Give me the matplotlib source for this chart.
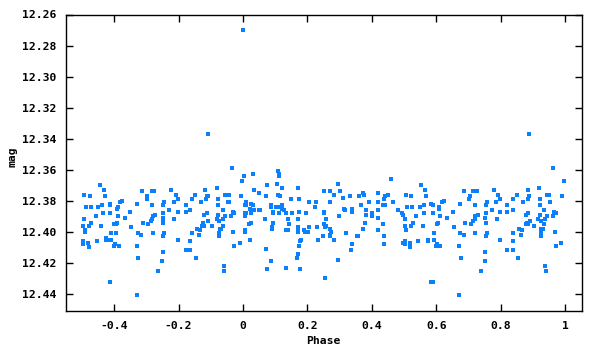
import matplotlib
matplotlib.use("Agg")
import matplotlib.pyplot as plt
from matplotlib.ticker import FixedLocator, FixedFormatter

phase = [
    -0.444, -0.431, -0.494, -0.475, -0.428, -0.488, -0.472, -0.450, -0.438, -0.413,
    -0.413, -0.494, -0.497, -0.491, -0.491, -0.472, -0.478, -0.456, -0.434, -0.413,
    -0.441, -0.497, -0.497, -0.481, -0.478, -0.453, -0.425, -0.425, -0.413, -0.409,
    -0.409, -0.394, -0.400, -0.397, -0.384, -0.413, -0.400, -0.394, -0.391, -0.388,
    -0.391, -0.388, -0.381, -0.375, -0.366, -0.350, -0.347, -0.328, -0.328, -0.325,
    -0.325, -0.328, -0.316, -0.313, -0.309, -0.297, -0.297, -0.294, -0.284, -0.281,
    -0.278, -0.272, -0.281, -0.281, -0.275, -0.278, -0.263, -0.250, -0.247, -0.247,
    -0.244, -0.247, -0.247, -0.247, -0.247, -0.247, -0.244, -0.228, -0.222, -0.213,
    -0.209, -0.213, -0.203, -0.203, -0.203, -0.178, -0.178, -0.178,
    -0.163, -0.163, -0.163, -0.159, -0.159, -0.150, -0.147, -0.144, -0.138, -0.134,
    -0.131, -0.125, -0.128, -0.122, -0.122, -0.119, -0.116, -0.113, -0.109, -0.113,
    -0.109, -0.097, -0.081, -0.078, -0.078, -0.081, -0.078, -0.075, -0.072, -0.069,
    -0.075, -0.075, -0.063, -0.063, -0.063, -0.056, -0.056, -0.059, -0.059, -0.047,
    -0.044, -0.044, -0.038, -0.031, -0.028, -0.031, -0.028, -0.034, -0.009, -0.006,
    -0.003, 0.003, 0.006, 0.009, 0.009, 0.006, 0.006, 0.009, 0.006, 0.006,
    0.019, 0.022, 0.022, 0.025, 0.025, 0.025, 0.031, 0.031, 0.034, 0.034,
    0.050, 0.050, 0.053, 0.069, 0.072, 0.075, 0.072, 0.075, 0.088, 0.088,
    0.088, 0.091, 0.091, 0.094, 0.094, 0.094, 0.106, 0.109, 0.113, 0.113,
    0.109, 0.116, 0.122, 0.103, 0.109, 0.116, 0.122, 0.122, 0.113, 0.128,
    0.134, 0.134, 0.141, 0.141, 0.144, 0.134, 0.150, 0.153, 0.172, 0.175,
    0.175, 0.172, 0.172, 0.172, 0.172, 0.181, 0.178, 0.175, 0.172, 0.172,
    0.169, 0.178,
    0.188, 0.191, 0.194, 0.203, 0.206, 0.206, 0.222, 0.225, 0.231, 0.234,
    0.249, 0.252, 0.252, 0.252, 0.252, 0.255, 0.258, 0.258, 0.271, 0.271,
    0.271, 0.274, 0.271, 0.271, 0.283, 0.283, 0.295, 0.302, 0.298, 0.295,
    0.255, 0.311, 0.314, 0.317, 0.320, 0.332, 0.338, 0.338, 0.338, 0.338,
    0.335, 0.354, 0.357, 0.360, 0.366, 0.372, 0.375, 0.382, 0.382, 0.378,
    0.372, 0.391, 0.400, 0.400, 0.418, 0.418, 0.418, 0.418, 0.418, 0.434,
    0.437, 0.440, 0.440, 0.434, 0.437, 0.437, 0.449, 0.458, 0.465, 0.480,
    0.492, 0.495, 0.502, 0.502, 0.505, 0.505, 0.508, 0.520, 0.523, 0.520,
    0.526, 0.495, 0.502, 0.502, 0.517, 0.517, 0.538, 0.542, 0.551, 0.548,
    0.558, 0.563, 0.563, 0.566, 0.569, 0.575, 0.575, 0.584, 0.588, 0.588,
    0.591, 0.591, 0.584, 0.588, 0.600, 0.603, 0.606, 0.603, 0.609, 0.609,
    0.612, 0.612, 0.616, 0.625, 0.634, 0.650, 0.653, 0.669, 0.672, 0.672,
    0.675, 0.669, 0.684, 0.687, 0.690, 0.700, 0.703, 0.706, 0.715, 0.719,
    0.725, 0.719, 0.719, 0.715, 0.719, 0.728, 0.750, 0.753, 0.753, 0.756,
    0.753, 0.753, 0.756, 0.750, 0.750, 0.737, 0.772, 0.778, 0.784, 0.787,
    0.790, 0.796, 0.796, 0.796, 0.818, 0.818, 0.818, 0.837, 0.837, 0.837,
    0.837, 0.837, 0.849, 0.853, 0.856, 0.862, 0.865, 0.868, 0.878, 0.878,
    0.881, 0.884, 0.884, 0.887, 0.884, 0.890, 0.884, 0.902, 0.915, 0.918,
    0.921, 0.921, 0.921, 0.924, 0.924, 0.931, 0.924, 0.924, 0.924, 0.934,
    0.937, 0.934, 0.943, 0.949, 0.952, 0.943, 0.962, 0.965, 0.971, 0.968,
    0.971, 0.987, 0.990, 0.937, 0.940, 0.962, 0.996,
    0.000, -0.110, 0.886,
]

mag = [
    12.370, 12.373, 12.376, 12.377, 12.377, 12.384, 12.384, 12.384, 12.383, 12.382,
    12.383, 12.392, 12.396, 12.399, 12.400, 12.394, 12.396, 12.390, 12.388, 12.388,
    12.396, 12.406, 12.408, 12.407, 12.410, 12.406, 12.404, 12.405, 12.405, 12.405,
    12.401, 12.401, 12.409, 12.408, 12.409, 12.432, 12.395, 12.395, 12.394, 12.390,
    12.385, 12.384, 12.381, 12.380, 12.391, 12.387, 12.397, 12.382, 12.409, 12.401,
    12.417, 12.441, 12.402, 12.374, 12.394, 12.377, 12.379, 12.395, 12.393, 12.392,
    12.390, 12.389, 12.383, 12.374, 12.374, 12.401, 12.425, 12.419, 12.413, 12.403,
    12.401, 12.391, 12.392, 12.394, 12.388, 12.383, 12.381, 12.386, 12.373, 12.392,
    12.376, 12.381, 12.379, 12.387, 12.405, 12.383, 12.387, 12.412,
    12.386, 12.406, 12.412, 12.379, 12.401, 12.376, 12.417, 12.398, 12.402, 12.399,
    12.381, 12.394, 12.396, 12.389, 12.396, 12.373, 12.379, 12.377, 12.377, 12.388,
    12.393, 12.396, 12.372, 12.379, 12.383, 12.392, 12.389, 12.393, 12.398, 12.398,
    12.401, 12.403, 12.386, 12.392, 12.396, 12.376, 12.390, 12.422, 12.425, 12.381,
    12.376, 12.381, 12.390, 12.387, 12.388, 12.400, 12.409, 12.359, 12.407, 12.377,
    12.367, 12.364, 12.383, 12.381, 12.383, 12.388, 12.390, 12.388, 12.399, 12.400,
    12.395, 12.385, 12.405, 12.382, 12.388, 12.394, 12.363, 12.383, 12.373, 12.386,
    12.375, 12.386, 12.386, 12.392, 12.377, 12.370, 12.411, 12.424, 12.383, 12.384,
    12.419, 12.397, 12.398, 12.394, 12.387, 12.388, 12.369, 12.361, 12.363, 12.364,
    12.376, 12.377, 12.372, 12.384, 12.384, 12.384, 12.383, 12.385, 12.388, 12.386,
    12.388, 12.399, 12.392, 12.399, 12.395, 12.423, 12.379, 12.388, 12.372, 12.379,
    12.387, 12.392, 12.397, 12.398, 12.400, 12.405, 12.406, 12.409, 12.414, 12.414,
    12.417, 12.424,
    12.399, 12.400, 12.388, 12.400, 12.381, 12.397, 12.384, 12.381, 12.397, 12.405,
    12.403, 12.374, 12.387, 12.388, 12.395, 12.397, 12.392, 12.396, 12.374, 12.381,
    12.398, 12.400, 12.402, 12.403, 12.376, 12.405, 12.369, 12.374, 12.390, 12.418,
    12.430, 12.378, 12.385, 12.386, 12.401, 12.377, 12.385, 12.386, 12.387, 12.408,
    12.412, 12.403, 12.403, 12.377, 12.383, 12.375, 12.376, 12.386, 12.389, 12.394,
    12.398, 12.381, 12.388, 12.390, 12.375, 12.381, 12.386, 12.391, 12.399, 12.383,
    12.379, 12.377, 12.383, 12.395, 12.403, 12.408, 12.376, 12.366, 12.381, 12.386,
    12.388, 12.389, 12.392, 12.396, 12.399, 12.376, 12.384, 12.377, 12.384, 12.396,
    12.394, 12.407, 12.406, 12.408, 12.407, 12.410, 12.390, 12.406, 12.370, 12.384,
    12.396, 12.383, 12.388, 12.373, 12.377, 12.405, 12.406, 12.382, 12.383, 12.388,
    12.401, 12.405, 12.432, 12.432, 12.409, 12.408, 12.394, 12.395, 12.384, 12.385,
    12.390, 12.409, 12.381, 12.380, 12.391, 12.387, 12.397, 12.409, 12.382, 12.401,
    12.417, 12.441, 12.402, 12.374, 12.394, 12.379, 12.377, 12.395, 12.374, 12.383,
    12.374, 12.390, 12.392, 12.393, 12.401, 12.389, 12.391, 12.383, 12.388, 12.381,
    12.394, 12.403, 12.401, 12.413, 12.419, 12.425, 12.386, 12.373, 12.381, 12.392,
    12.376, 12.379, 12.387, 12.405, 12.383, 12.387, 12.412, 12.379, 12.386, 12.401,
    12.406, 12.412, 12.376, 12.417, 12.398, 12.402, 12.399, 12.381, 12.389, 12.395,
    12.394, 12.379, 12.373, 12.377, 12.388, 12.393, 12.395, 12.396, 12.392, 12.372,
    12.379, 12.383, 12.389, 12.393, 12.398, 12.398, 12.401, 12.402, 12.403, 12.386,
    12.392, 12.395, 12.376, 12.376, 12.381, 12.390, 12.390, 12.387, 12.388, 12.400,
    12.409, 12.407, 12.377, 12.422, 12.425, 12.359, 12.367,
    12.270, 12.337, 12.337,
]

x_ticks = [-0.4, -0.2, 0, 0.2, 0.4, 0.6, 0.8, 1]
x_tick_labels = ["-0.4", "-0.2", "0", "0.2", "0.4", "0.6", "0.8", "1"]
y_ticks = [12.26, 12.28, 12.30, 12.32, 12.34, 12.36, 12.38, 12.40, 12.42, 12.44]
y_tick_labels = ["12.26", "12.28", "12.30", "12.32", "12.34", "12.36",
                 "12.38", "12.40", "12.42", "12.44"]

font = "DejaVu Sans Mono"
fig = plt.figure(figsize=(6, 3.5), dpi=100)
ax = fig.add_axes([66 / 600, 1 - 311 / 350, (581.5 - 66) / 600, (311 - 14.5) / 350])

ax.plot(phase, mag, linestyle="none", marker="s", markersize=2.4,
        markeredgewidth=0, color="#0a80ff")

ax.set_xlim(-0.549, 1.05)
ax.set_ylim(12.451, 12.26)

ax.xaxis.set_major_locator(FixedLocator(x_ticks))
ax.xaxis.set_major_formatter(FixedFormatter(x_tick_labels))
ax.yaxis.set_major_locator(FixedLocator(y_ticks))
ax.yaxis.set_major_formatter(FixedFormatter(y_tick_labels))

ax.tick_params(direction="in", length=5, width=1, top=True, right=True,
               labelsize=8.2, pad=7, colors="black")
for lab in ax.get_xticklabels() + ax.get_yticklabels():
    lab.set_fontfamily(font)
    lab.set_fontweight("bold")

for s in ax.spines.values():
    s.set_linewidth(1)

ax.set_xlabel("Phase", fontfamily=font, fontweight="bold", fontsize=8.2)
ax.set_ylabel("mag", fontfamily=font, fontweight="bold", fontsize=8.2)
ax.xaxis.set_label_coords(0.5, -0.083)
ax.yaxis.set_label_coords(-0.095, 0.52)

fig.savefig("out.png", dpi=100)
